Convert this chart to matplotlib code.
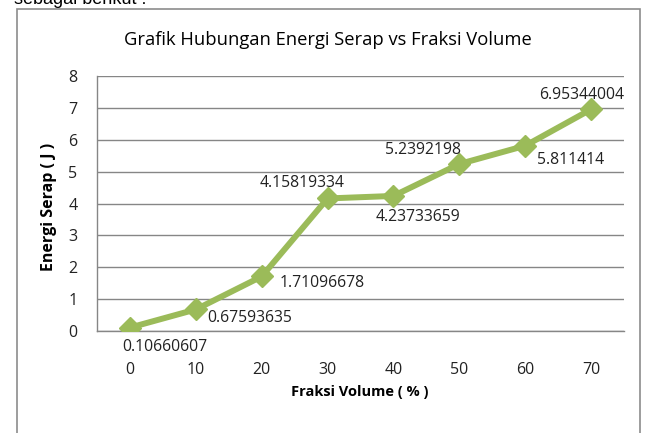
import matplotlib
matplotlib.use("Agg")
import matplotlib.pyplot as plt
from matplotlib.patches import Rectangle

categories = ["0", "10", "20", "30", "40", "50", "60", "70"]
energi = [0.10660607, 0.67593635, 1.71096678, 4.15819334, 4.23733659, 5.2392198, 5.811414, 6.95344004]
labels = ["0.10660607", "0.67593635", "1.71096678", "4.15819334", "4.23733659", "5.2392198", "5.811414", "6.95344004"]
yticks = [0, 1, 2, 3, 4, 5, 6, 7, 8]

# label placement (pixels offset, alignment)
label_offsets = [(-8, -19, "left"), (11, -9, "left"), (18, -7, "left"), (17, 15, "right"),
                 (25, -21, "center"), (-36, 14, "center"), (12, -14, "left"), (33, 14, "right")]

W, H = 649, 433
fig = plt.figure(figsize=(W / 100, H / 100), dpi=100)
fig.patch.set_facecolor("white")
font = "Open Sans"

# page text cut off at the top
fig.text(14 / W, 1 - 4 / H, "sebagai berikut :", fontsize=13, family="Liberation Sans",
         ha="left", va="baseline", color="black")

# chart frame
fig.patches.append(Rectangle((17 / W, -0.05), (640 - 17) / W, 1.05 - 9 / H, transform=fig.transFigure,
                             fill=False, edgecolor="#8c8c8c", linewidth=1.2))

ax = fig.add_axes([97 / W, 1 - 331 / H, (624 - 97) / W, (331 - 76) / H])
x = list(range(len(categories)))
ax.plot(x, energi, color="#9BBB59", linewidth=4.3, marker="D", markersize=11,
        markerfacecolor="#9BBB59", markeredgecolor="#9BBB59", zorder=3)
ax.set_xlim(-0.5, len(categories) - 0.5)
ax.set_ylim(0, 8)
ax.set_yticks(yticks)
ax.set_xticks(x)
ax.set_xticklabels(categories)
ax.grid(axis="y", color="#868686", linewidth=1)
ax.set_axisbelow(True)
for s in ["top", "right"]:
    ax.spines[s].set_visible(False)
for s in ["left", "bottom"]:
    ax.spines[s].set_color("#868686")
    ax.spines[s].set_linewidth(1)
ax.tick_params(length=0, labelsize=11.5, colors="#222222", pad=10)
ax.tick_params(axis="y", pad=14)
ax.tick_params(axis="x", pad=22)
for t in ax.get_xticklabels() + ax.get_yticklabels():
    t.set_family(font)

for xi, yi, lab, (dx, dy, ha) in zip(x, energi, labels, label_offsets):
    ax.annotate(lab, (xi, yi), xytext=(dx, dy), textcoords="offset pixels", ha=ha, va="center",
                fontsize=11.3, family=font, color="#222222")

fig.text(328 / W, 1 - 40 / H, "Grafik Hubungan Energi Serap vs Fraksi Volume", ha="center", va="center",
         fontsize=13.2, family=font, color="black")
fig.text(360 / W, 1 - 392 / H, "Fraksi Volume ( % )", ha="center", va="center",
         fontsize=10.5, family=font, weight="bold", color="black")
fig.text(49 / W, 1 - 207 / H, "Energi Serap ( J )", ha="center", va="center", rotation=90,
         fontsize=11.5, family=font, weight="bold", color="black")

fig.savefig("out.png", dpi=100, facecolor="white")
